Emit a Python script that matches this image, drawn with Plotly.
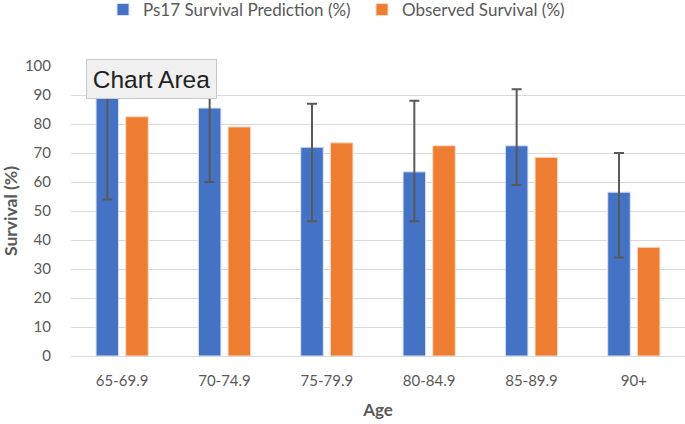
import plotly.graph_objects as go

categories = ["65-69.9", "70-74.9", "75-79.9", "80-84.9", "85-89.9", "90+"]
predicted = [90, 85.5, 72, 63.5, 72.5, 56.5]
pred_upper = [98, 92, 87, 88, 92, 70]
pred_lower = [54, 60, 46.5, 46.5, 59, 34]
observed = [82.5, 79, 73.5, 72.5, 68.5, 37.5]

err_plus = [u - v for u, v in zip(pred_upper, predicted)]
err_minus = [v - l for v, l in zip(predicted, pred_lower)]

FONT = "Lato"
TXT = "#595959"

fig = go.Figure()
fig.add_trace(go.Bar(
    x=categories, y=predicted, name="Ps17 Survival Prediction (%)",
    marker=dict(color="#4472C4", line=dict(color="#dbe3f3", width=1)),
    error_y=dict(type="data", symmetric=False, array=err_plus, arrayminus=err_minus,
                 color="#595959", thickness=2, width=5),
))
fig.add_trace(go.Bar(
    x=categories, y=observed, name="Observed Survival (%)",
    marker=dict(color="#ED7D31", line=dict(color="#f8dcc8", width=1)),
))

fig.update_layout(
    width=685, height=424,
    margin=dict(l=71, r=0, t=66, b=68, autoexpand=False),
    paper_bgcolor="white", plot_bgcolor="white",
    barmode="group", bargap=0.42, bargroupgap=0.24,
    font=dict(family=FONT, size=15, color=TXT),
    legend=dict(orientation="h", xref="container", yref="container",
                x=103 / 685, xanchor="left", y=1 - 10 / 424, yanchor="middle",
                font=dict(size=17, color=TXT), entrywidth=214, entrywidthmode="pixels",
                tracegroupgap=0),
    xaxis=dict(title=dict(text="<b>Age</b>", font=dict(size=17, color=TXT), standoff=16),
               tickfont=dict(size=15, color=TXT), showgrid=False, automargin=False,
               showline=True, linecolor="#D9D9D9", linewidth=1, ticks="",
               ticklabelstandoff=11),
    yaxis=dict(title=dict(text="<b>Survival (%)</b>", font=dict(size=17.5, color=TXT), standoff=24),
               range=[0, 100], dtick=10, tickfont=dict(size=15, color=TXT), automargin=False,
               showgrid=True, gridcolor="#D9D9D9", gridwidth=1, zeroline=False,
               ticks="", ticklabelstandoff=19),
    annotations=[dict(
        text="Chart Area", xref="paper", yref="paper", x=0.131, y=0.955,
        xanchor="center", yanchor="middle", showarrow=False,
        font=dict(family="Liberation Sans", size=24.5, color="#222222"),
        bgcolor="#f0f0f0", bordercolor="#c8c8c8", borderwidth=1,
        width=125, height=34, borderpad=2,
    )],
)

fig.write_html("out.html", config={"displayModeBar": False},
               post_script="document.body.style.margin='0';")
